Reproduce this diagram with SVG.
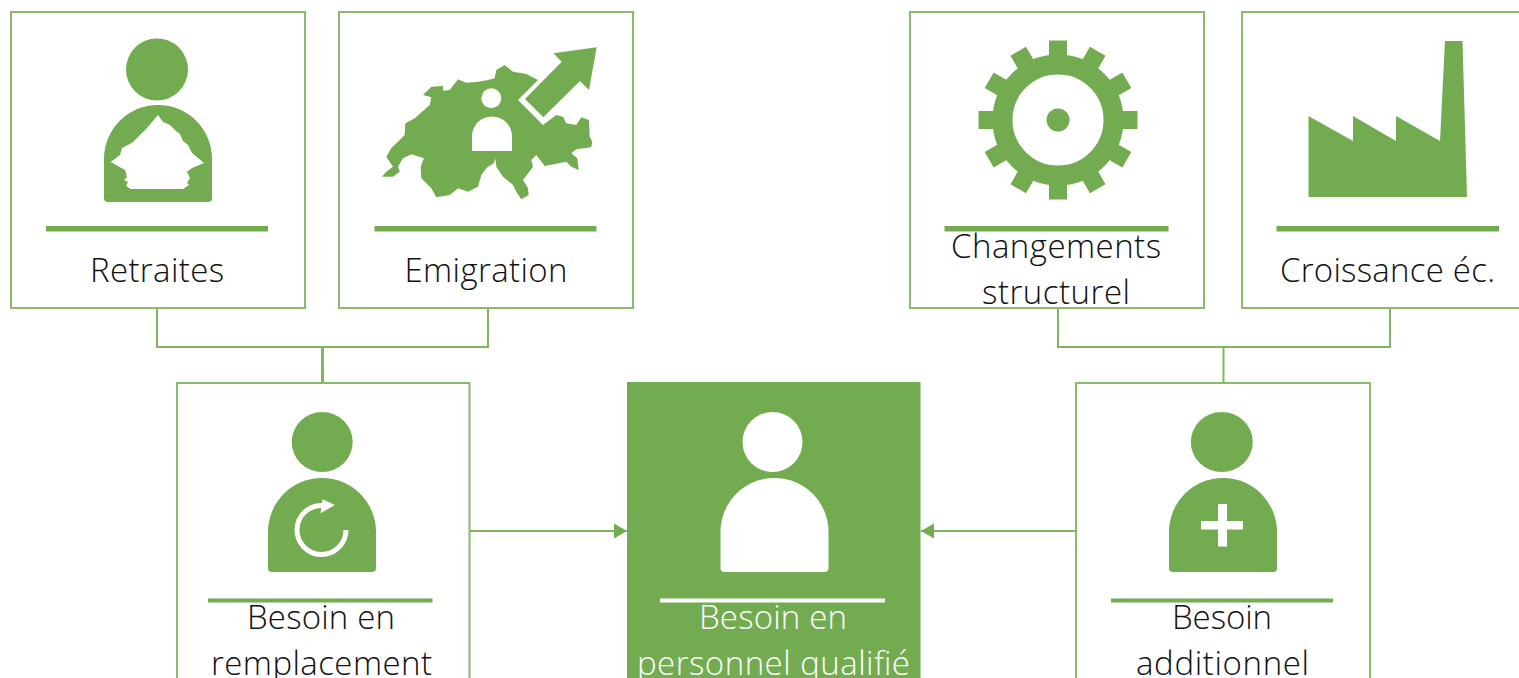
<svg xmlns="http://www.w3.org/2000/svg" width="1519" height="678" viewBox="0 0 1519 678">
<style>
.box{fill:#fff;stroke:#8abb6c;stroke-width:2}
.fillbox{fill:#73ac50;stroke:none}
.g{fill:#73ac50}
.w{fill:#fff}
.c{fill:none;stroke:#80b562;stroke-width:2}
.t{font-family:"Open Sans","Liberation Sans",sans-serif;font-weight:300;font-size:33px;text-anchor:middle;fill:#111}
.tw{fill:#fff}
</style>
<defs>
<path id="body" d="M0 93V54A54 54 0 0 1 108 54V93Q108 97 104 97H4Q0 97 0 93Z"/>
<path id="body2" d="M0 90V54A54 54 0 0 1 108 54V90Q108 94 104 94H4Q0 94 0 90Z"/>
<marker id="ah" markerUnits="userSpaceOnUse" markerWidth="14" markerHeight="16" refX="13" refY="7.500" orient="auto"><path d="M0 0L13 7.500L0 15Z" fill="#73ac50"/></marker>
</defs>
<g id="connectors">
<path class="c" d="M157 308V347H488V308"/>
<path class="c" d="M322.500 347V384" style="stroke-width:3"/>
<path class="c" d="M1058 308V347H1390V308"/>
<path class="c" d="M1223.500 347V384"/>
<path class="c" d="M470 531H627" marker-end="url(#ah)"/>
<path class="c" d="M1076 531H921" marker-end="url(#ah)"/>
</g>
<g id="retraites">
<rect class="box" x="11" y="12" width="294" height="296"/>
<circle class="g" cx="157" cy="69.500" r="31"/>
<use href="#body" x="104" y="105" class="g"/>
<path class="w" d="M158 115L163 122L170 125L176 131L180 134L183 141L188 145L192 153L204 163L192 168L187 172L190 178L187 183L189 185L183 189H130.700L126 186L128 182L124 180L127 177L125 170L110.700 162L120 155L122 148L128 145L133 142L147 128Z"/>
<rect class="g" x="46" y="226" width="222" height="5.500"/>
<text class="t" x="157" y="282" textLength="134">Retraites</text>
</g>
<g id="emigration">
<rect class="box" x="339" y="12" width="294" height="296"/>
<path class="g" d="M382 176.700L386.300 171.700L393 166.700L386.300 156.700L391.300 148.300L404.700 135L405.300 123.300L414.700 118.300L429.700 105L431.300 97.300L423 95L431.300 86.700L443 86L443 90.700L449.700 90L458 79.300L466.300 82.700L478 81.700L488 80L494.700 78.300L496.300 70L504.700 65L513 71.700L526.300 74L538 80L518 100L543 125L556.300 115L563 116.700L566.300 123.300L576.300 125L581.300 117.300L589 120L589.700 136.700L592.300 141.700L591.300 147.300L576.300 149.300L571.300 153.300L577.300 158.300L578.700 170L571.300 166.700L566.300 161.700L544.700 166L536.300 155L531.300 160L533 166.700L523 180L528 188.300L528.700 195L521.300 199.300L516.300 191.700L513 185L503 176.700L496.300 166.700L495.300 158.300L494 163.300L488 166.700L486.300 168.300L481.300 175L478 186.700L468 191.700L458 188.300L449.700 195L436.300 197.300L431.300 188.300L421.300 178.300L420.700 166.700L424 158.300L411.300 154.300L403 158.300L398 166.700L399.700 171.700L393 176.700Z"/>
<path class="g" d="M596.700 47.300L553.300 53.300L561.700 61.700L525 99L543.300 117.300L580 81L589 90Z"/>
<circle class="w" cx="491.300" cy="98.300" r="10"/>
<path class="w" d="M472 151V136.500A20 20 0 0 1 512 136.500V151Z"/>
<rect class="g" x="374.500" y="226" width="222" height="5.500"/>
<text class="t" x="486" y="282" textLength="163">Emigration</text>
</g>
<g id="changements">
<rect class="box" x="910" y="12" width="294" height="296"/>
<g transform="translate(1058 120)">
<g id="gear" class="g">
<rect x="-9" y="-79.500" width="18" height="30"/>
<rect x="-9" y="-79.500" width="18" height="30" transform="rotate(30)"/>
<rect x="-9" y="-79.500" width="18" height="30" transform="rotate(60)"/>
<rect x="-9" y="-79.500" width="18" height="30" transform="rotate(90)"/>
<rect x="-9" y="-79.500" width="18" height="30" transform="rotate(120)"/>
<rect x="-9" y="-79.500" width="18" height="30" transform="rotate(150)"/>
<rect x="-9" y="-79.500" width="18" height="30" transform="rotate(180)"/>
<rect x="-9" y="-79.500" width="18" height="30" transform="rotate(210)"/>
<rect x="-9" y="-79.500" width="18" height="30" transform="rotate(240)"/>
<rect x="-9" y="-79.500" width="18" height="30" transform="rotate(270)"/>
<rect x="-9" y="-79.500" width="18" height="30" transform="rotate(300)"/>
<rect x="-9" y="-79.500" width="18" height="30" transform="rotate(330)"/>
</g>
<circle r="55.500" fill="none" stroke="#73ac50" stroke-width="20"/>
<circle class="g" r="11.500"/>
</g>
<rect class="g" x="944.500" y="226" width="224" height="5.500"/>
<text class="t" x="1056" y="258" textLength="210">Changements</text>
<text class="t" x="1056" y="304" textLength="148">structurel</text>
</g>
<g id="croissance">
<rect class="box" x="1242" y="12" width="294" height="296"/>
<path class="g" d="M1308.500 197V116L1353 141V116L1396 141V116L1440 141L1445 41H1462.500L1467 197Z"/>
<rect class="g" x="1276.500" y="226" width="222.500" height="5.500"/>
<text class="t" x="1387.500" y="282" textLength="215">Croissance éc.</text>
</g>
<g id="besoin-remplacement">
<rect class="box" x="177" y="383" width="292.500" height="320"/>
<ellipse class="g" cx="322.200" cy="442" rx="30.500" ry="30"/>
<use href="#body2" x="268" y="478" class="g"/>
<path d="M346 530A24.500 24.500 0 1 1 323 505.500" fill="none" stroke="#fff" stroke-width="5"/>
<path class="w" d="M335 505L322.500 499.300L320.500 513.300Z"/>
<rect class="g" x="208" y="598.500" width="224.500" height="4"/>
<text class="t" x="321" y="629" textLength="148">Besoin en</text>
<text class="t" x="321.500" y="675" textLength="221">remplacement</text>
</g>
<g id="besoin-personnel">
<rect class="fillbox" x="627" y="382" width="293.500" height="320"/>
<circle class="w" cx="772.500" cy="442" r="30"/>
<use href="#body2" x="720.500" y="478" class="w"/>
<rect class="w" x="660" y="598.500" width="225" height="4"/>
<text class="t tw" x="773" y="629" textLength="148">Besoin en</text>
<text class="t tw" x="773.500" y="675" textLength="273">personnel qualifié</text>
</g>
<g id="besoin-additionnel">
<rect class="box" x="1076" y="383" width="294" height="320"/>
<ellipse class="g" cx="1221.800" cy="442" rx="31" ry="30"/>
<use href="#body2" x="1169" y="478" class="g"/>
<path class="w" d="M1218 504H1227V521H1243V529.500H1227V546.500H1218V529.500H1201V521H1218Z"/>
<rect class="g" x="1111" y="598.500" width="222" height="4"/>
<text class="t" x="1222" y="629" textLength="100">Besoin</text>
<text class="t" x="1222.500" y="675" textLength="173">additionnel</text>
</g>
</svg>
